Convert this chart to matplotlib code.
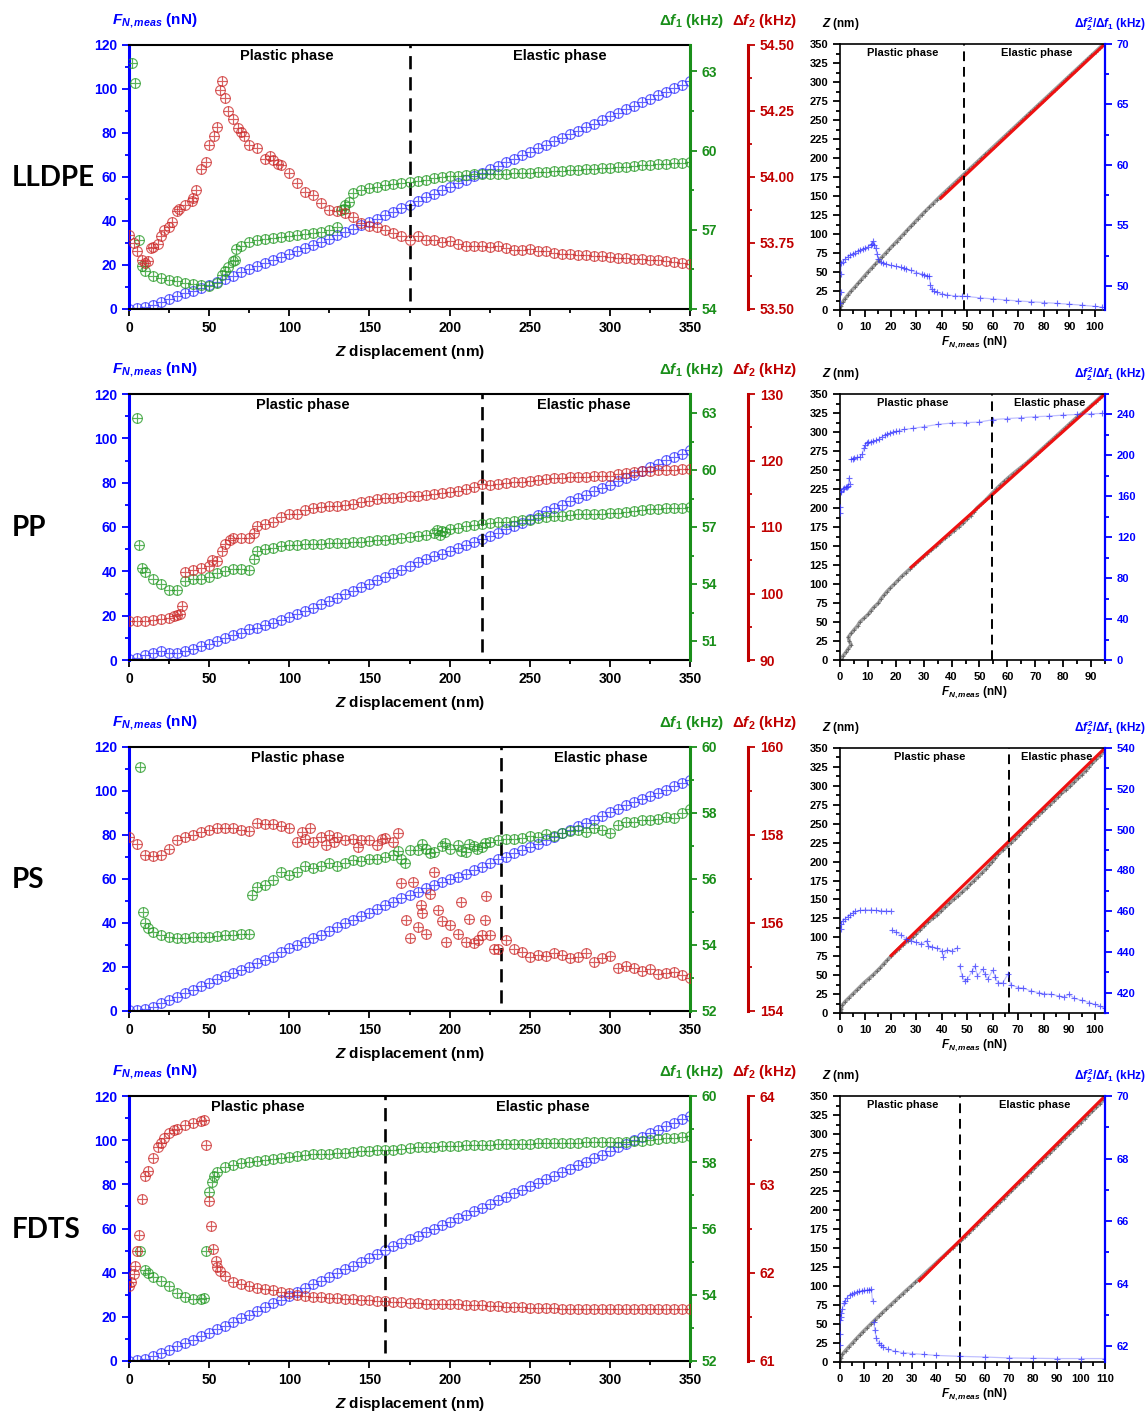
"""Force / frequency-shift curves during indentation for four samples (LLDPE, PP, PS, FDTS).

Left: F_N,meas, Δf1 and Δf2 against Z displacement.  Right: Z and Δf2²/Δf1 against F_N,meas.
"""
import matplotlib
matplotlib.use("Agg")
import matplotlib.pyplot as plt
import numpy as np
from matplotlib.ticker import MultipleLocator, FormatStrFormatter

NA = np.nan

# ---- datos -----------------------------------------------------------------
Z_NM = [0, 5, 10, 15, 20, 25, 30, 35, 40, 45,
        50, 55, 60, 65, 70, 75, 80, 85, 90, 95,
        100, 105, 110, 115, 120, 125, 130, 135, 140, 145,
        150, 155, 160, 165, 170, 175, 180, 185, 190, 195,
        200, 205, 210, 215, 220, 225, 230, 235, 240, 245,
        250, 255, 260, 265, 270, 275, 280, 285, 290, 295,
        300, 305, 310, 315, 320, 325, 330, 335, 340, 345,
        350]

# LLDPE
LLDPE_FN = [0, 0.3, 1.0, 2.0, 3.2, 4.4, 5.8, 7.1, 8.4, 9.7,
            11.0, 12.4, 13.8, 15.2, 16.6, 18.0, 19.4, 20.8, 22.2, 23.6,
            25.0, 26.4, 27.8, 29.2, 30.6, 32.0, 33.5, 35.0, 36.5, 38.0,
            39.5, 41.1, 42.7, 44.3, 45.9, 47.5, 49.1, 50.7, 52.3, 53.9,
            55.5, 57.1, 58.7, 60.3, 61.9, 63.5, 65.1, 66.7, 68.3, 69.9,
            71.5, 73.1, 74.7, 76.3, 77.9, 79.5, 81.1, 82.7, 84.3, 85.9,
            87.5, 89.1, 90.7, 92.3, 93.9, 95.5, 97.1, 98.7, 100.3, 101.9,
            103.5]
LLDPE_DF1 = [NA, NA, 55.45, 55.25, 55.17, 55.1, 55.05, 55.0, 54.96, 54.92,
             54.88, 55.0, 55.45, 55.8, 56.4, 56.55, 56.6, 56.65, 56.7, 56.72,
             56.75, 56.8, 56.85, 56.88, 56.92, 57.0, 57.1, 57.95, 58.39, 58.5,
             58.6, 58.64, 58.68, 58.75, 58.78, 58.8, 58.85, 58.9, 58.95, 59.0,
             59.02, 59.05, 59.08, 59.1, 59.12, 59.12, 59.13, 59.13, 59.14, 59.15,
             59.15, 59.18, 59.2, 59.22, 59.24, 59.25, 59.27, 59.29, 59.31, 59.33,
             59.35, 59.37, 59.39, 59.42, 59.44, 59.46, 59.48, 59.5, 59.52, 59.54,
             59.56]
LLDPE_DF2 = [53.78, 53.72, 53.675, 53.735, 53.775, 53.81, 53.87, 53.895, 53.92, 54.03,
             54.12, 54.19, 54.3, 54.22, 54.17, 54.12, 54.11, 54.07, 54.065, 54.045,
             54.015, 53.977, 53.945, 53.93, 53.9, 53.876, 53.87, 53.863, 53.85, 53.825,
             53.813, 53.812, 53.8, 53.787, 53.775, 53.762, 53.775, 53.762, 53.762, 53.752,
             53.756, 53.745, 53.737, 53.74, 53.74, 53.735, 53.737, 53.73, 53.724, 53.725,
             53.726, 53.72, 53.718, 53.714, 53.71, 53.708, 53.706, 53.703, 53.7, 53.699,
             53.697, 53.695, 53.693, 53.69, 53.689, 53.686, 53.684, 53.68, 53.677, 53.673,
             53.669]
LLDPE_DF1_EXTRA_Z = [2, 4, 6, 8, 58, 62, 66, 67, 132, 134, 137]
LLDPE_DF1_EXTRA = [63.33, 62.55, 56.6, 55.64, 55.3, 55.6, 55.87, 56.27, 57.76, 57.8, 58.05]
LLDPE_DF2_EXTRA_Z = [3, 8, 12, 14, 18, 22, 27, 31, 39, 42, 48, 53, 57, 58, 62, 68, 72, 88, 93]
LLDPE_DF2_EXTRA = [53.75, 53.687, 53.68, 53.73, 53.745, 53.8, 53.83, 53.88, 53.91, 53.95,
                   54.055, 54.156, 54.33, 54.364, 54.25, 54.185, 54.156, 54.08, 54.05]
LLDPE_RATIO_F = [0.1, 0.2, 0.3, 0.5, 1, 2, 3, 4, 5, 6, 7, 8, 9, 10, 11, 12, 12.5, 13, 13.5, 14,
                 14.5, 15, 16, 17, 18, 20, 22, 24, 25, 26, 28, 30, 32, 33, 34, 35, 35.5, 36, 37, 38,
                 40, 42, 45, 48, 50, 55, 60, 65, 70, 75, 80, 85, 90, 95, 100, 103]
LLDPE_RATIO = [48.6, 49.5, 51.0, 51.9, 52.0, 52.2, 52.4, 52.55, 52.65, 52.75, 52.85, 52.98, 53.05, 53.1,
               53.25, 53.4, 53.5, 53.67, 53.4, 53.1, 52.6, 52.2, 52.0, 51.87, 51.8, 51.7, 51.6, 51.55,
               51.46, 51.4, 51.27, 51.1, 51.0, 50.9, 50.85, 50.8, 50.1, 49.7, 49.55, 49.45, 49.34,
               49.25, 49.17, 49.14, 49.12, 49.0, 48.92, 48.83, 48.75, 48.68, 48.62, 48.55, 48.48,
               48.4, 48.3, 48.23]
LLDPE_FIT_F = [39.5, 104.0]
LLDPE_FIT_Z = [147, 350]
LLDPE_Z_BOUND = 175
LLDPE_F_BOUND = 48.5

# PP
PP_FN = [0.6, 1.0, 2.1, 3.0, 4.0, 3.3, 3.0, 4.0, 5.1, 6.3,
         7.1, 8.6, 10.1, 11.1, 12.3, 13.8, 14.6, 15.7, 16.8, 18.1,
         19.5, 20.8, 22.1, 23.6, 25.1, 26.6, 28.1, 29.6, 31.1, 32.8,
         34.5, 36.0, 37.5, 39.2, 40.8, 42.5, 44.1, 45.4, 46.8, 48.0,
         49.1, 50.6, 52.1, 53.4, 54.7, 56.0, 57.4, 58.9, 60.4, 62.0,
         63.7, 65.4, 67.1, 68.6, 70.1, 71.6, 73.1, 74.6, 76.1, 77.6,
         79.1, 80.6, 82.1, 83.6, 85.1, 86.9, 88.6, 90.1, 91.6, 93.1,
         94.6]
PP_DF1 = [NA, 62.74, 54.63, 54.27, 53.98, 53.71, 53.71, 54.15, 54.24, 54.27,
          54.38, 54.59, 54.68, 54.8, 54.8, 54.73, 55.73, 55.82, 55.9, 55.99,
          56.03, 56.04, 56.08, 56.11, 56.13, 56.15, 56.17, 56.18, 56.2, 56.22,
          56.25, 56.3, 56.34, 56.38, 56.43, 56.48, 56.52, 56.6, 56.66, 56.78,
          56.87, 56.95, 57.04, 57.1, 57.18, 57.22, 57.25, 57.28, 57.3, 57.35,
          57.39, 57.46, 57.53, 57.56, 57.6, 57.63, 57.66, 57.66, 57.66, 57.7,
          57.74, 57.76, 57.78, 57.85, 57.92, 57.93, 57.95, 57.98, 58.0, 58.02,
          58.04]
PP_DF2 = [95.86, 95.86, 95.9, 95.95, 96.1, 96.3, 96.7, 103.2, 103.6, 103.9,
          104.2, 104.9, 107.4, 108.4, 108.4, 108.4, 110.1, 110.4, 110.7, 111.5,
          111.9, 111.9, 112.6, 112.9, 113.0, 113.1, 113.2, 113.3, 113.5, 113.7,
          113.9, 114.2, 114.4, 114.4, 114.5, 114.6, 114.7, 114.8, 115.0, 115.1,
          115.2, 115.4, 115.7, 116.0, 116.4, 116.3, 116.4, 116.6, 116.7, 116.8,
          116.9, 117.0, 117.2, 117.3, 117.4, 117.5, 117.5, 117.5, 117.6, 117.6,
          117.7, 117.9, 118.1, 118.3, 118.4, 118.4, 118.5, 118.6, 118.6, 118.7,
          118.7]
PP_DF1_EXTRA_Z = [6.5, 8, 78, 192, 194, 197]
PP_DF1_EXTRA = [56.04, 54.85, 55.29, 56.85, 56.6, 56.75]
PP_DF2_EXTRA_Z = [28, 32, 33, 52, 58, 63, 78]
PP_DF2_EXTRA = [96.6, 96.86, 98.1, 105.1, 106.4, 108.1, 109.1]
PP_RATIO_F = [0.1, 0.1, 0.2, 0.5, 1, 1.5, 2, 2.5, 3, 3.2, 3.5, 4, 4.5, 5, 6, 7, 8, 8.5, 9, 9.5,
              10, 11, 12, 13, 14, 15, 16, 17, 18, 19, 20, 21, 23, 26, 30, 35, 40, 45, 50, 55,
              60, 65, 70, 75, 80, 85, 90, 94]
PP_RATIO = [144, 150, 164, 165.4, 167, 168, 168.7, 169.5, 170.3, 178, 172, 196, 196.5, 197, 198,
            198.5, 201, 207, 210, 212.5, 213, 213, 214, 214.7, 216, 218, 219.5, 221, 222, 223,
            223.5, 224, 225.4, 226.4, 228, 230.3, 231.6, 232, 232.6, 235, 236, 236.8, 237.8,
            238.4, 239.4, 240, 240.7, 241]
PP_FIT_F = [25.5, 95.0]
PP_FIT_Z = [122, 350]
PP_Z_BOUND = 220
PP_F_BOUND = 54.5

# PS
PS_FN = [0.5, 0.5, 0.8, 2.0, 3.5, 5.0, 6.5, 8.0, 9.5, 11.2,
         12.9, 14.4, 15.9, 17.2, 18.6, 20.1, 21.6, 23.1, 24.7, 26.6,
         28.5, 30.0, 31.5, 33.0, 34.5, 36.4, 38.3, 39.8, 41.3, 43.0,
         44.6, 46.4, 48.1, 49.7, 51.2, 52.7, 54.2, 55.7, 57.2, 58.5,
         59.8, 61.0, 62.2, 63.9, 65.5, 67.2, 68.9, 70.2, 71.6, 73.1,
         74.6, 76.1, 77.6, 79.2, 80.7, 82.4, 84.0, 85.5, 87.0, 88.8,
         90.5, 92.0, 93.5, 95.0, 96.5, 97.8, 99.1, 100.6, 102.1, 103.7,
         105.2]
PS_DF1 = [NA, NA, 54.67, 54.4, 54.3, 54.25, 54.22, 54.22, 54.23, 54.24,
          54.25, 54.27, 54.29, 54.3, 54.32, 54.32, 55.76, 55.81, 55.96, 56.22,
          56.12, 56.22, 56.39, 56.32, 56.39, 56.49, 56.39, 56.49, 56.57, 56.55,
          56.62, 56.62, 56.67, 56.72, 56.62, 56.89, 56.87, 56.92, 56.82, 56.99,
          56.92, 57.02, 56.82, 56.99, 56.97, 57.13, 57.18, 57.2, 57.2, 57.23,
          57.3, 57.28, 57.36, 57.3, 57.38, 57.46, 57.5, 57.43, 57.56, 57.5,
          57.4, 57.63, 57.73, 57.73, 57.78, 57.78, 57.83, 57.88, 57.86, 58.0,
          58.13]
PS_DF2 = [157.96, 157.8, 157.54, 157.52, 157.54, 157.69, 157.88, 157.96, 158.01, 158.07,
          158.11, 158.15, 158.15, 158.15, 158.12, 158.09, 158.28, 158.26, 158.26, 158.2,
          158.17, 157.84, 157.92, 157.84, 157.96, 158.0, 157.96, 157.88, 157.92, 157.88,
          157.88, 157.77, 157.94, 157.84, 156.9, 155.65, 155.91, 155.76, 157.16, 156.04,
          155.95, 155.76, 155.57, 155.54, 155.72, 155.72, 155.4, 155.61, 155.4, 155.34,
          155.23, 155.27, 155.25, 155.31, 155.27, 155.2, 155.23, 155.31, 155.12, 155.2,
          155.25, 154.98, 155.02, 154.98, 154.9, 154.96, 154.85, 154.86, 154.88, 154.82,
          154.74]
PS_DF1_EXTRA_Z = [7, 9, 12, 77, 168, 172, 183, 188, 197, 207, 212, 217, 222]
PS_DF1_EXTRA = [59.38, 54.99, 54.53, 55.51, 56.85, 56.5, 57.05, 56.8, 57.1, 56.85, 57.05, 56.9, 57.1]
PS_DF2_EXTRA_Z = [108, 113, 123, 128, 143, 158, 168, 173, 177, 182,
                  183, 188, 193, 198, 207, 212, 218, 222, 223, 228]
PS_DF2_EXTRA = [158.07, 158.15, 157.77, 157.84, 157.73, 157.9, 158.05, 156.07, 156.94, 156.4,
                156.22, 156.67, 156.29, 155.57, 156.48, 156.1, 155.61, 156.07, 156.61, 155.42]
PS_RATIO_F = [0.2, 0.5, 1, 2, 3, 4, 5, 6, 8, 10, 12, 14, 16, 18, 20, 20.5, 22, 24, 26, 28,
              30, 32, 34, 34.5, 36, 38, 40, 40.5, 42, 44, 46, 47, 48, 49, 50, 52, 53, 54, 56, 57,
              58, 60, 61, 62, 64, 66, 67, 70, 72, 75, 78, 80, 83, 86, 88, 90, 92, 95, 98, 100,
              102, 104]
PS_RATIO = [451.2, 453.7, 455.3, 456.2, 457.3, 458.3, 459.1, 459.8, 460.3, 460.6,
            460.6, 460.3, 460.2, 460.0, 460.0, 450.7, 449.6, 448.4, 446.3, 445.5,
            444.7, 443.8, 445.5, 443.0, 442.5, 441.9, 440.5, 437.5, 440.9, 440.5,
            441.9, 433.1, 428.2, 425.5, 426.6, 430.7, 433.1, 428.2, 431.5, 429.0,
            426.6, 431.0, 427.5, 424.9, 424.9, 429.2, 423.8, 422.5, 422.2, 420.8,
            420.0, 419.5, 419.2, 418.4, 417.9, 419.2, 417.2, 416.2, 415.1, 414.3,
            413.5, 412.3]
PS_FIT_F = [20.1, 104.1]
PS_FIT_Z = [76, 350]
PS_Z_BOUND = 232
PS_F_BOUND = 66.5

# FDTS
FDTS_FN = [0, 0.3, 1.0, 2.3, 3.7, 5.2, 6.6, 8.1, 9.6, 11.2,
           12.8, 14.4, 16.0, 17.6, 19.3, 21.0, 22.7, 24.4, 26.1, 27.8,
           29.6, 31.3, 33.0, 34.7, 36.4, 38.1, 39.8, 41.5, 43.2, 44.9,
           46.7, 48.5, 50.3, 51.9, 53.5, 55.1, 56.7, 58.3, 59.9, 61.5,
           63.1, 64.7, 66.3, 67.9, 69.5, 71.1, 72.7, 74.3, 75.9, 77.5,
           79.1, 80.7, 82.3, 83.9, 85.5, 87.1, 88.7, 90.3, 91.9, 93.5,
           95.1, 96.7, 98.3, 99.9, 101.5, 103.1, 104.7, 106.3, 107.9, 109.5,
           111.0]
FDTS_DF1 = [NA, NA, 54.76, 54.53, 54.41, 54.26, 54.05, 53.92, 53.88, 53.87,
            57.09, 57.72, 57.85, 57.93, 57.97, 58.01, 58.05, 58.08, 58.1, 58.14,
            58.17, 58.2, 58.22, 58.24, 58.25, 58.26, 58.27, 58.29, 58.3, 58.33,
            58.35, 58.36, 58.37, 58.38, 58.4, 58.43, 58.45, 58.46, 58.47, 58.49,
            58.5, 58.5, 58.51, 58.52, 58.52, 58.53, 58.54, 58.54, 58.55, 58.56,
            58.56, 58.57, 58.57, 58.58, 58.58, 58.59, 58.59, 58.6, 58.6, 58.61,
            58.61, 58.62, 58.62, 58.63, 58.63, 58.66, 58.69, 58.72, 58.74, 58.76,
            58.78]
FDTS_DF2 = [61.85, 62.25, 63.09, 63.3, 63.47, 63.58, 63.63, 63.67, 63.69, 63.72,
            62.81, 62.06, 61.96, 61.9, 61.87, 61.85, 61.83, 61.81, 61.8, 61.78,
            61.77, 61.75, 61.74, 61.73, 61.72, 61.71, 61.71, 61.7, 61.7, 61.69,
            61.69, 61.68, 61.68, 61.67, 61.67, 61.66, 61.66, 61.65, 61.65, 61.64,
            61.64, 61.64, 61.63, 61.63, 61.63, 61.62, 61.62, 61.61, 61.61, 61.61,
            61.6, 61.6, 61.6, 61.6, 61.59, 61.59, 61.59, 61.59, 61.59, 61.59,
            61.59, 61.59, 61.59, 61.59, 61.59, 61.59, 61.59, 61.59, 61.59, 61.59,
            61.59]
FDTS_DF1_EXTRA_Z = [7, 12, 47, 48, 52, 53]
FDTS_DF1_EXTRA = [55.32, 54.66, 53.9, 55.32, 57.4, 57.59]
FDTS_DF2_EXTRA_Z = [1, 3, 4, 6, 8, 12, 18, 22, 28, 47, 48, 51, 52.5, 54, 57]
FDTS_DF2_EXTRA = [61.9, 61.99, 62.07, 62.43, 62.83, 63.15, 63.42, 63.53, 63.61, 63.73,
                  63.44, 62.53, 62.27, 62.13, 62.02]
FDTS_RATIO_F = [0.1, 0.1, 0.2, 0.3, 0.5, 1, 1.5, 2, 3, 4, 5, 6, 7, 8, 9, 10, 11, 12, 13, 13.5,
                14, 14.5, 15, 16, 17, 18, 20, 23, 26, 30, 35, 40, 50, 60, 70, 80, 90, 100, 110]
FDTS_RATIO = [62.03, 62.41, 62.83, 62.95, 63.05, 63.2, 63.37, 63.45, 63.56, 63.63,
              63.68, 63.72, 63.74, 63.76, 63.78, 63.79, 63.8, 63.81, 63.83, 63.45,
              62.78, 62.51, 62.28, 62.11, 62.03, 61.98, 61.9, 61.84, 61.8, 61.77,
              61.74, 61.71, 61.68, 61.66, 61.63, 61.62, 61.61, 61.61, 61.61]
FDTS_FIT_F = [33, 110]
FDTS_FIT_Z = [107, 350]
FDTS_Z_BOUND = 160
FDTS_F_BOUND = 50

# ---- estilo ----------------------------------------------------------------
W, H = 1147, 1414
BLUE_AX, GREEN_AX, RED_AX = "#0000ff", "#1a8f1a", "#c00000"
BLUE_PT, GREEN_PT, RED_PT = "#3030ff", "#259a25", "#cc2a2a"

plt.rcParams.update({
    "font.family": "Liberation Sans", "font.weight": "bold",
    "mathtext.fontset": "custom",
    "mathtext.rm": "Liberation Sans:bold",
    "mathtext.it": "Liberation Sans:italic:bold",
    "mathtext.bf": "Liberation Sans:bold",
    "axes.linewidth": 1.5,
})

SAMPLES = [
    dict(name="LLDPE", fn=LLDPE_FN, df1=LLDPE_DF1, df2=LLDPE_DF2,
         df1_ex=(LLDPE_DF1_EXTRA_Z, LLDPE_DF1_EXTRA), df2_ex=(LLDPE_DF2_EXTRA_Z, LLDPE_DF2_EXTRA),
         ratio=(LLDPE_RATIO_F, LLDPE_RATIO), fit=(LLDPE_FIT_F, LLDPE_FIT_Z),
         zb=LLDPE_Z_BOUND, fb=LLDPE_F_BOUND,
         g=(54, 64, 3, 1.5), r=(53.5, 54.5, 0.25, 0.125, "%.2f"),
         fmax=104.0, q=(48, 70, 5, 2.5),
         txt_l=(98.6, 268.9), txt_r=(24.7, 77.3)),
    dict(name="PP", fn=PP_FN, df1=PP_DF1, df2=PP_DF2,
         df1_ex=(PP_DF1_EXTRA_Z, PP_DF1_EXTRA), df2_ex=(PP_DF2_EXTRA_Z, PP_DF2_EXTRA),
         ratio=(PP_RATIO_F, PP_RATIO), fit=(PP_FIT_F, PP_FIT_Z),
         zb=PP_Z_BOUND, fb=PP_F_BOUND,
         g=(50, 64, 3, 1.5), r=(90, 130, 10, 5, "%d"),
         fmax=95.0, q=(0, 260, 40, 20),
         txt_l=(108.6, 283.9), txt_r=(26.0, 75.2)),
    dict(name="PS", fn=PS_FN, df1=PS_DF1, df2=PS_DF2,
         df1_ex=(PS_DF1_EXTRA_Z, PS_DF1_EXTRA), df2_ex=(PS_DF2_EXTRA_Z, PS_DF2_EXTRA),
         ratio=(PS_RATIO_F, PS_RATIO), fit=(PS_FIT_F, PS_FIT_Z),
         zb=PS_Z_BOUND, fb=PS_F_BOUND,
         g=(52, 60, 2, 1), r=(154, 160, 2, 1, "%d"),
         fmax=104.1, q=(410, 540, 20, 10),
         txt_l=(105.4, 294.5), txt_r=(35.3, 85.2)),
    dict(name="FDTS", fn=FDTS_FN, df1=FDTS_DF1, df2=FDTS_DF2,
         df1_ex=(FDTS_DF1_EXTRA_Z, FDTS_DF1_EXTRA), df2_ex=(FDTS_DF2_EXTRA_Z, FDTS_DF2_EXTRA),
         ratio=(FDTS_RATIO_F, FDTS_RATIO), fit=(FDTS_FIT_F, FDTS_FIT_Z),
         zb=FDTS_Z_BOUND, fb=FDTS_F_BOUND,
         g=(52, 60, 2, 1), r=(61, 64, 1, 0.5, "%d"),
         fmax=110.0, q=(61.5, 70, 2, 1),
         txt_l=(80.5, 258.4), txt_r=(26.2, 80.9)),
]

LEFT_X = (129, 690)
RIGHT_X = (840, 1105)
LEFT_ROWS = [(45, 309), (394, 660), (747, 1011), (1096, 1361)]
RIGHT_ROWS = [(44, 310), (394, 660), (748, 1013), (1096, 1362)]
ROW_LABEL_Y = [178, 528, 880, 1230]


def rect(x0, x1, top, bot):
    return [x0 / W, 1 - bot / H, (x1 - x0) / W, (bot - top) / H]


def ftext(x, y, s, **kw):
    fig.text(x / W, 1 - y / H, s, ha=kw.pop("ha", "center"), va=kw.pop("va", "center"), **kw)


def ring_plus(ax, x, y, color, ms=7.0, alpha=0.75):
    ax.plot(x, y, ls="none", marker="o", ms=ms, mfc="none", mec=color, mew=0.85, alpha=alpha)
    ax.plot(x, y, ls="none", marker="+", ms=ms, mec=color, mew=0.85, alpha=alpha)


def ticks(ax, axis, major, minor, color="black", size=10):
    loc = ax.xaxis if axis == "x" else ax.yaxis
    loc.set_major_locator(MultipleLocator(major))
    loc.set_minor_locator(MultipleLocator(minor))
    ax.tick_params(axis=axis, which="both", direction="out", width=1.3, colors=color,
                   labelsize=size)
    ax.tick_params(axis=axis, which="major", length=5)
    ax.tick_params(axis=axis, which="minor", length=3)


def panel_left(s, top, bot):
    ax = fig.add_axes(rect(*LEFT_X, top, bot))
    ax.set_xlim(0, 350)
    ax.set_ylim(0, 120)
    ticks(ax, "x", 50, 25)
    ticks(ax, "y", 20, 10, BLUE_AX)
    ax.spines["left"].set_color(BLUE_AX)
    ax.spines["left"].set_linewidth(2.2)
    ax.spines["right"].set_visible(False)

    g = ax.twinx()
    r = ax.twinx()
    for a in (g, r):
        for sp in ("left", "top", "bottom"):
            a.spines[sp].set_visible(False)
    g.spines["right"].set_color(GREEN_AX)
    g.spines["right"].set_linewidth(2.2)
    r.spines["right"].set_position(("axes", 1 + (748 - 690) / (690 - 129)))
    r.spines["right"].set_color(RED_AX)
    r.spines["right"].set_linewidth(2.2)

    g0, g1, gmaj, gmin = s["g"]
    g.set_ylim(g0, g1)
    ticks(g, "y", gmaj, gmin, GREEN_AX)
    g.yaxis.set_major_formatter(FormatStrFormatter("%d"))
    r0, r1, rmaj, rmin, rfmt = s["r"]
    r.set_ylim(r0, r1)
    ticks(r, "y", rmaj, rmin, RED_AX)
    r.yaxis.set_major_formatter(FormatStrFormatter(rfmt))

    z = np.array(Z_NM)
    ring_plus(ax, z, s["fn"], BLUE_PT)
    ring_plus(g, np.r_[z, s["df1_ex"][0]], np.r_[s["df1"], s["df1_ex"][1]], GREEN_PT)
    ring_plus(r, np.r_[z, s["df2_ex"][0]], np.r_[s["df2"], s["df2_ex"][1]], RED_PT)

    ax.axvline(s["zb"], ymin=0.03, ymax=1, color="black", lw=1.9, ls=(0, (5, 3)))
    tr = ax.get_xaxis_transform()
    ax.text(s["txt_l"][0], 0.985, "Plastic phase", transform=tr, ha="center", va="top", fontsize=10.5)
    ax.text(s["txt_l"][1], 0.985, "Elastic phase", transform=tr, ha="center", va="top", fontsize=10.5)

    ftext(155, top - 24, r"$F_{N,meas}$ (nN)", color=BLUE_AX, fontsize=11)
    ftext(692, top - 24, r"Δ$f_1$ (kHz)", color=GREEN_AX, fontsize=11)
    ftext(765, top - 24, r"Δ$f_2$ (kHz)", color=RED_AX, fontsize=11)
    ftext(410, bot + 43, r"$Z$ displacement (nm)", fontsize=11)


def ratio_line(ax, f, v, span):
    # faint trace joining neighbouring points, broken at the jumps
    f, v = np.asarray(f, float), np.asarray(v, float)
    cut = np.where(np.abs(np.diff(v)) > 0.05 * span)[0] + 1
    for fs, vs in zip(np.split(f, cut), np.split(v, cut)):
        ax.plot(fs, vs, color=BLUE_PT, lw=0.9, alpha=0.3)


def panel_right(s, top, bot):
    ax = fig.add_axes(rect(*RIGHT_X, top, bot))
    ax.set_xlim(0, s["fmax"])
    ax.set_ylim(0, 350)
    ticks(ax, "x", 10, 5, size=8)
    ticks(ax, "y", 25, 12.5, size=8)
    ax.spines["right"].set_visible(False)
    for sp in ("left", "top", "bottom"):
        ax.spines[sp].set_linewidth(1.2)

    ax.plot(s["fn"], Z_NM, color="#7d7d7d", lw=2.6, alpha=0.75)
    ax.plot(s["fn"], Z_NM, ls="none", marker="+", ms=3, mec="#444444", mew=0.7, alpha=0.6)
    ax.plot(*s["fit"], color="#ee1111", lw=2.2)
    ax.axvline(s["fb"], color="black", lw=1.4, ls=(0, (5, 3)))
    tr = ax.get_xaxis_transform()
    ax.text(s["txt_r"][0], 0.985, "Plastic phase", transform=tr, ha="center", va="top", fontsize=8)
    ax.text(s["txt_r"][1], 0.985, "Elastic phase", transform=tr, ha="center", va="top", fontsize=8)

    q = ax.twinx()
    for sp in ("left", "top", "bottom"):
        q.spines[sp].set_visible(False)
    q.spines["right"].set_color(BLUE_AX)
    q.spines["right"].set_linewidth(1.6)
    q0, q1, qmaj, qmin = s["q"]
    q.set_ylim(q0, q1)
    ticks(q, "y", qmaj, qmin, BLUE_AX, size=8)
    q.yaxis.set_major_formatter(FormatStrFormatter("%d"))
    ratio_line(q, *s["ratio"], q1 - q0)
    q.plot(*s["ratio"], ls="none", marker="+", ms=5, mec=BLUE_PT, mew=0.8, alpha=0.7)

    ftext(841, top - 20, r"$Z$ (nm)", fontsize=8.5)
    ftext(1110, top - 20, r"Δ$f_2^2$/Δ$f_1$ (kHz)", color=BLUE_AX, fontsize=8.5)
    ftext(974, bot + 33, r"$F_{N,meas}$ (nN)", fontsize=8.5)


fig = plt.figure(figsize=(W / 100, H / 100), dpi=100)
for s, (lt, lb), (rt, rb), ly in zip(SAMPLES, LEFT_ROWS, RIGHT_ROWS, ROW_LABEL_Y):
    panel_left(s, lt, lb)
    panel_right(s, rt, rb)
    ftext(12, ly, s["name"], ha="left", fontsize=20, fontfamily="Lato", fontweight="bold")

fig.savefig("out.png", dpi=100, facecolor="white")
